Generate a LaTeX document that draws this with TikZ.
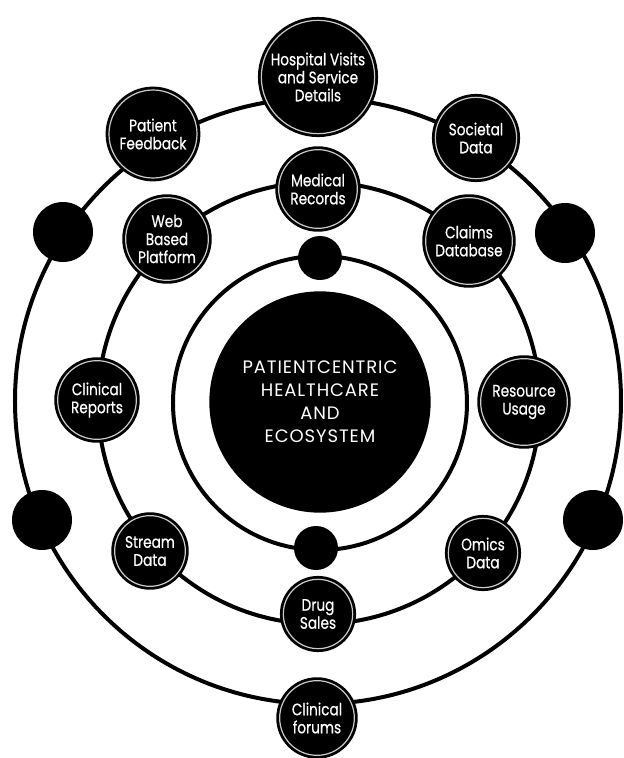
\documentclass[tikz,border=0pt]{standalone}
\usepackage{fontspec}
\setmainfont[FakeStretch=0.82,FakeBold=0.6]{Poppins}
\newfontfamily\hubfont[LetterSpace=5]{Poppins}

\begin{document}
\begin{tikzpicture}[
    x=0.75pt, y=0.75pt,
    ring/.style={draw=black, line width=3pt},
    topic/.style={
        circle, fill=black, draw=black, line width=2.1pt,
        double=white!80!black, double distance=0.9pt,
        text=white, font=\fontsize{12.5}{13.5}\selectfont,
        align=center, inner sep=0pt, minimum size=#1
    },
    topic/.default=59pt,
    blob/.style={circle, fill=black, inner sep=0pt, minimum size=#1},
    hub/.style={
        circle, fill=black, text=white, inner sep=0pt, minimum size=166pt,
        align=center, font=\hubfont\fontsize{13.5}{17.25}\selectfont
    }
]
\useasboundingbox (-320,-355) rectangle (304,403);

% rings
\draw[ring] (-2,2) circle[radius=303];
\draw[ring] (-1,0) circle[radius=221];
\draw[ring] (0,0) circle[radius=147];

% centre
\node[hub] (hub) at (0,1) {PATIENTCENTRIC\\HEALTHCARE\\AND\\ECOSYSTEM};

% inner ring
\node[blob=33pt] (innerTop) at (0,145) {};
\node[blob=33pt] (innerBottom) at (-4,-145) {};

% middle ring
\node[topic] (medical) at (-2,214) {Medical\\Records};
\node[topic=62pt] (webPlatform) at (-153,164) {Web\\Based\\Platform};
\node[topic=65pt] (claims) at (149,162) {Claims\\Database};
\node[topic] (clinReports) at (-223,3) {Clinical\\Reports};
\node[topic=65pt] (resource) at (204,1) {Resource\\Usage};
\node[topic=53pt] (stream) at (-170,-148) {Stream\\Data};
\node[topic=52pt] (omics) at (163,-150) {Omics\\Data};
\node[topic=52pt] (drugSales) at (-2,-211) {Drug\\Sales};

% outer ring
\node[topic=85pt] (hospital) at (-2,326) {Hospital Visits\\and Service\\Details};
\node[topic=66pt] (feedback) at (-167,269) {Patient\\Feedback};
\node[topic=61pt] (societal) at (156,265) {Societal\\Data};
\node[topic=56pt] (forums) at (-3,-315) {Clinical\\forums};
\node[blob=45pt] (outerTL) at (-257,171) {};
\node[blob=45pt] (outerTR) at (245,170) {};
\node[blob=45pt] (outerBL) at (-278,-117) {};
\node[blob=45pt] (outerBR) at (273,-117) {};

\end{tikzpicture}
\end{document}
